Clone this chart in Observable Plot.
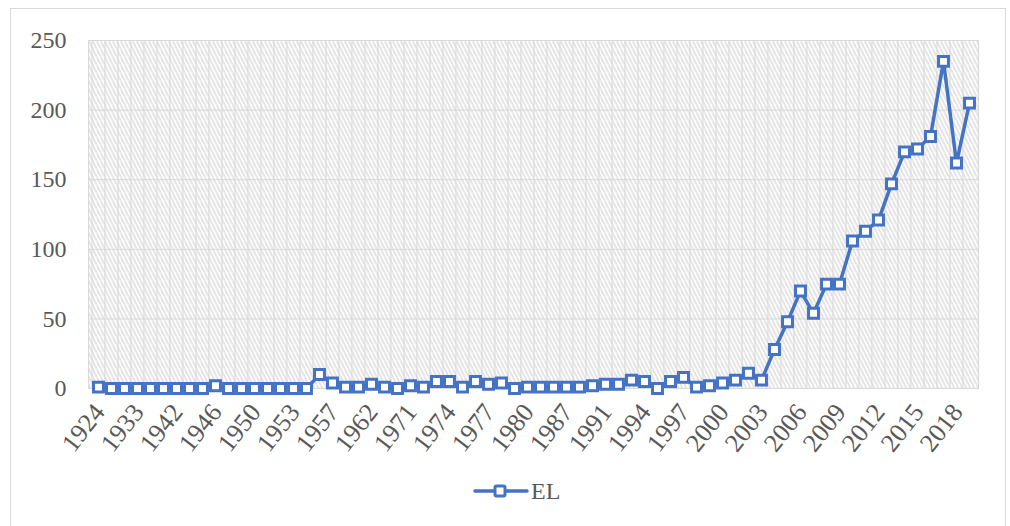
<!DOCTYPE html>
<html><head><meta charset="utf-8">
<script src="https://cdn.jsdelivr.net/npm/d3@7"></script>
<script src="https://cdn.jsdelivr.net/npm/@observablehq/plot@0.6"></script>
<style>
body{margin:0;background:#fff;font-family:"Liberation Serif","Times New Roman",serif;}
#wrap{position:relative;width:1010px;height:526px;overflow:hidden;background:#fff}
#border{position:absolute;left:10px;top:8px;width:996px;height:540px;border:1px solid #d9d9d9;box-sizing:border-box}
#chart{position:absolute;left:0;top:0}
#legend{position:absolute;left:473px;top:477px;display:flex;align-items:center;color:#595959;font-size:24px;line-height:28px}
</style></head><body>
<div id="wrap"><div id="border"></div><div id="chart"></div><div id="legend"></div></div>
<script>
// Categories (x axis) — one point per category, evenly spaced
const years = ["1924","1925","1929","1933","1935","1938","1942","1943","1944","1946","1947","1948","1950","1951","1952","1953","1955","1956","1957","1958","1960","1962","1965","1968","1971","1972","1973","1974","1975","1976","1977","1978","1979","1980","1982","1985","1987","1988","1989","1991","1992","1993","1994","1995","1996","1997","1998","1999","2000","2001","2002","2003","2004","2005","2006","2007","2008","2009","2010","2011","2012","2013","2014","2015","2016","2017","2018","2019"];
// Series values (EL)
const values = [1,0,0,0,0,0,0,0,0,2,0,0,0,0,0,0,0,10,4,1,1,3,1,0,2,1,5,5,1,5,3,4,0,1,1,1,1,1,2,3,3,6,5,0,5,8,1,2,4,6,11,6,28,48,70,54,75,75,106,113,121,147,170,172,181,235,162,205];
// Tick labels shown on the x axis
const tickLabels = ["1924","1933","1942","1946","1950","1953","1957","1962","1971","1974","1977","1980","1987","1991","1994","1997","2000","2003","2006","2009","2012","2015","2018"];
const yTicks = [0,50,100,150,200,250];
const seriesName = "EL";

const data = years.map((year,i)=>({year, value: values[i]}));
const W=1010,H=460,mL=88,mR=32,mT=40,mB=72;
const step=(W-mL-mR)/years.length;
const blue="#4472C4", grid="#d9d9d9", textCol="#595959";
const font='"Liberation Serif","Times New Roman",serif';

const chart = Plot.plot({
  width:W,height:H,marginLeft:mL,marginRight:mR,marginTop:mT,marginBottom:mB,
  style:{fontFamily:font,fontSize:"22px",color:textCol,background:"transparent",overflow:"visible"},
  x:{type:"point",domain:years,padding:0.5,axis:null},
  y:{domain:[0,250]},
  marks:[
    Plot.frame({fill:"url(#hatch)",stroke:"none"}),
    Plot.ruleX(years,{dx:-step/2,stroke:grid,strokeWidth:1}),
    Plot.gridY(yTicks,{stroke:grid,strokeOpacity:1,strokeWidth:1}),
    Plot.frame({stroke:grid,strokeWidth:1}),
    Plot.axisY({ticks:yTicks,tickSize:0,tickPadding:22,fontSize:24,label:null,fill:textCol}),
    Plot.text(tickLabels,{x:d=>d,frameAnchor:"bottom",rotate:-52,textAnchor:"end",lineAnchor:"middle",dx:1,dy:19,fontSize:26,fill:textCol}),
    Plot.line(data,{x:"year",y:"value",stroke:blue,strokeWidth:3.5}),
    Plot.dot(data,{x:"year",y:"value",symbol:"square",r:5.6,fill:"white",stroke:blue,strokeWidth:3})
  ]
});
const defs=d3.select(chart).insert("defs",":first-child");
const pat=defs.append("pattern").attr("id","hatch").attr("patternUnits","userSpaceOnUse").attr("width",4).attr("height",8);
pat.append("rect").attr("width",4).attr("height",8).attr("fill","white");
pat.append("path").attr("d","M-1,-2 L5,10 M-3,2 L1,10 M3,-6 L7,2").attr("stroke","#d6d6d6").attr("stroke-width",1.4);
document.getElementById("chart").appendChild(chart);

const lg=document.getElementById("legend");
lg.innerHTML=`<svg width="56" height="20" style="margin-right:2px"><line x1="2" y1="10" x2="54" y2="10" stroke="${blue}" stroke-width="3.5" stroke-linecap="round"/><rect x="22" y="5" width="10" height="10" fill="white" stroke="${blue}" stroke-width="3" rx="1.5"/></svg><span>${seriesName}</span>`;
</script>
</body></html>
